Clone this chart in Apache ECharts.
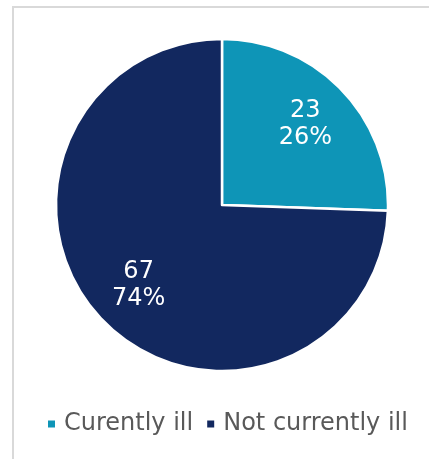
<!DOCTYPE html>
<html>
<head>
<meta charset="utf-8">
<script src="https://cdn.jsdelivr.net/npm/echarts@6/dist/echarts.min.js"></script>
<style>
  html, body { margin: 0; padding: 0; background: #ffffff; }
  #chart { width: 429px; height: 459px; }
</style>
</head>
<body>
<div id="chart"></div>
<script>
// Illness status counts
const categories = ['Curently ill', 'Not currently ill'];
const counts = [23, 67];
const colors = ['#0E95B7', '#12285F'];

const total = counts.reduce((a, b) => a + b, 0);
const pieData = categories.map((name, i) => ({
  name: name,
  value: counts[i],
  itemStyle: { color: colors[i] }
}));

const chart = echarts.init(document.getElementById('chart'), null, { renderer: 'canvas' });

const center = [222, 205];
const radius = 166;

chart.setOption({
  animation: false,
  backgroundColor: '#ffffff',
  graphic: [{
    type: 'rect',
    silent: true,
    shape: { x: 13, y: 7, width: 600, height: 600 },
    style: { fill: 'none', stroke: '#d9d9d9', lineWidth: 2 }
  }],
  legend: {
    top: 407,
    left: 41,
    itemWidth: 9,
    itemHeight: 9,
    itemGap: 12,
    icon: 'rect',
    textStyle: { fontFamily: 'DejaVu Sans', fontSize: 24, color: '#595959', padding: [0, 0, 0, 3] },
    data: categories
  },
  series: [
    {
      type: 'pie',
      center: center,
      radius: [0, radius],
      startAngle: 90,
      clockwise: true,
      silent: true,
      label: { show: false },
      labelLine: { show: false },
      itemStyle: { borderColor: '#ffffff', borderWidth: 2.5 },
      data: pieData
    },
    {
      // label layer: same slices, transparent, sized so labels sit ~68% out
      type: 'pie',
      center: center,
      radius: [0, radius * 1.36],
      startAngle: 90,
      clockwise: true,
      silent: true,
      legendHoverLink: false,
      itemStyle: { color: 'transparent', borderWidth: 0 },
      label: {
        show: true,
        position: 'inside',
        fontFamily: 'DejaVu Sans',
        fontSize: 24,
        lineHeight: 27,
        color: '#ffffff',
        formatter: (p) => p.value + '\n' + Math.round(p.value / total * 100) + '%'
      },
      labelLine: { show: false },
      data: categories.map((name, i) => ({ name: name + ' ', value: counts[i] }))
    }
  ]
});
</script>
</body>
</html>
